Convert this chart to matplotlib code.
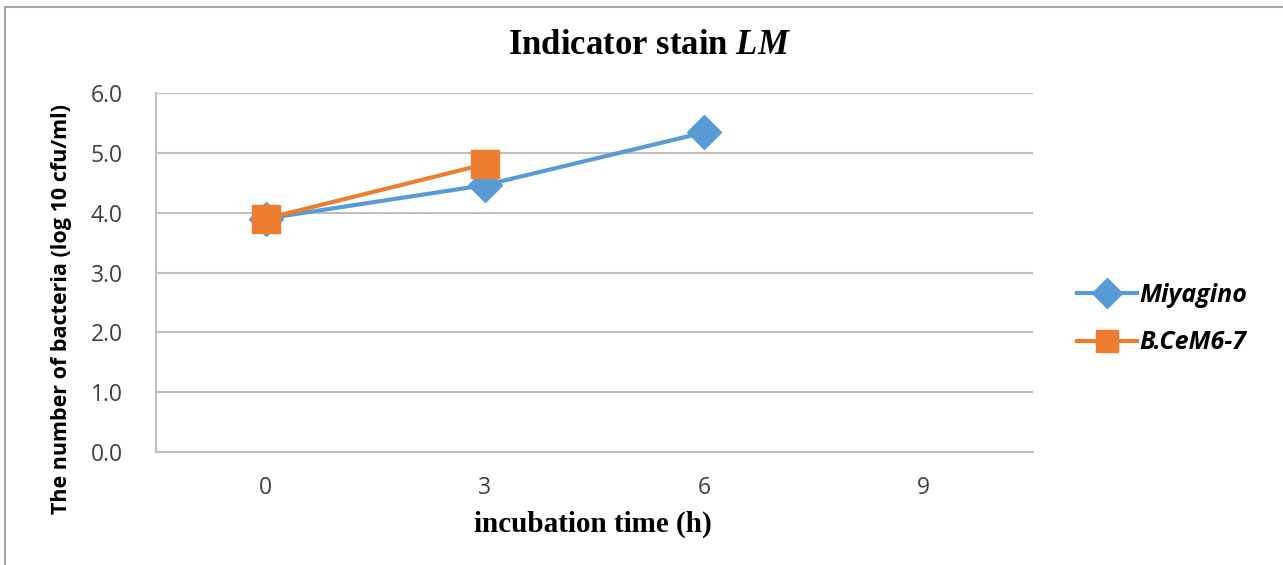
import matplotlib
matplotlib.use("Agg")
import matplotlib.pyplot as plt
from matplotlib.lines import Line2D

plt.rcParams["mathtext.fontset"] = "custom"
plt.rcParams["mathtext.it"] = "Liberation Serif:italic:bold"
plt.rcParams["mathtext.rm"] = "Liberation Serif:bold"
plt.rcParams["mathtext.bf"] = "Liberation Serif:bold"

categories = ["0", "3", "6", "9"]
miyagino = [3.90, 4.46, 5.34]
bcem = [3.90, 4.81]
yticks = [0.0, 1.0, 2.0, 3.0, 4.0, 5.0, 6.0]

blue = "#5B9BD5"
orange = "#ED7D31"
grid = "#BFBFBF"

fig = plt.figure(figsize=(12.83, 5.65), dpi=100)
ax = fig.add_axes([156/1283, 1-452/565, (1033-156)/1283, (452-93)/565])

x = list(range(len(categories)))
ax.plot(x[:len(miyagino)], miyagino, color=blue, lw=3, marker="D", ms=17,
        markeredgecolor=blue, label="Miyagino", zorder=3)
ax.plot(x[:len(bcem)], bcem, color=orange, lw=3, marker="s", ms=20,
        markeredgecolor=orange, label="B.CeM6-7", zorder=4)

ax.set_xlim(-0.5, len(categories) - 0.5)
ax.set_ylim(0, 6)
ax.set_yticks(yticks)
ax.set_yticklabels([f"{v:.1f}" for v in yticks])
ax.set_xticks(x)
ax.set_xticklabels(categories)
ax.yaxis.grid(True, color=grid, lw=1.5)
ax.set_axisbelow(True)
for s in ["top", "right"]:
    ax.spines[s].set_visible(False)
for s in ["left", "bottom"]:
    ax.spines[s].set_color(grid)
    ax.spines[s].set_linewidth(1.5)
ax.tick_params(axis="both", length=0, labelsize=16.5, labelcolor="#404040")
for lab in ax.get_xticklabels() + ax.get_yticklabels():
    lab.set_fontfamily("Open Sans")
ax.tick_params(axis="y", pad=24)
ax.tick_params(axis="x", pad=17)

fig.text(649/1283, 1-45/565, "Indicator stain $\\mathit{LM}$", ha="center", va="center",
         fontsize=25, fontweight="bold", family="Liberation Serif")
fig.text(62/1283, 1-309/565, "The number of bacteria (log 10 cfu/ml)",
         rotation=90, ha="center", va="center", fontsize=15.5, fontweight="bold",
         family="Open Sans")
fig.text(593/1283, 1-524/565, "incubation time (h)", ha="center", va="center",
         fontsize=21, fontweight="bold", family="Liberation Serif")

handles = [Line2D([], [], color=blue, lw=3, marker="D", ms=15),
           Line2D([], [], color=orange, lw=3, marker="s", ms=16)]
leg = fig.legend(handles, ["Miyagino", "B.CeM6-7"], loc="center left",
                 bbox_to_anchor=(1054/1283, 1-319/565), frameon=False,
                 handlelength=2.4, handletextpad=0.1, labelspacing=0.9,
                 prop={"family": "Open Sans", "weight": "bold", "style": "italic", "size": 18})

fig.add_artist(Line2D([5/1283, 5/1283], [0, 1-7/565], transform=fig.transFigure,
                      color="#A6A6A6", lw=1.5))
fig.add_artist(Line2D([5/1283, 1], [1-7/565, 1-7/565], transform=fig.transFigure,
                      color="#A6A6A6", lw=1.5))

fig.savefig("out.png", dpi=100)
